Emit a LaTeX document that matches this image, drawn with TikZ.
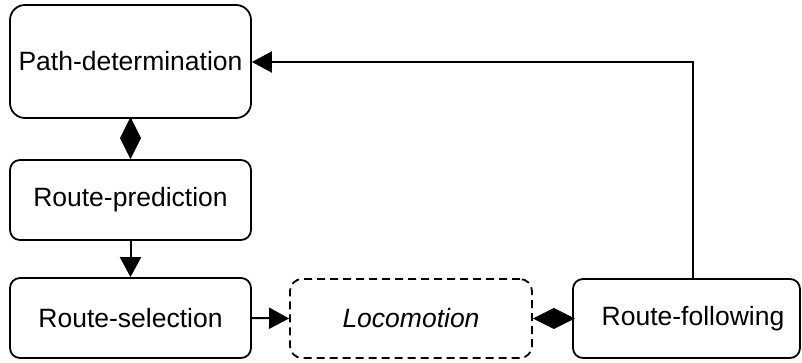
\documentclass[tikz,border=0pt]{standalone}
\usepackage{fontspec}
\setmainfont{Liberation Sans}
\usetikzlibrary{arrows.meta,calc}

\tikzset{
  stage/.style={draw, line width=1.8pt, rounded corners=10pt, inner sep=0pt,
    font=\fontsize{26.5}{30}\selectfont},
  lbl/.style={inner sep=0pt, font=\fontsize{26.5}{30}\selectfont},
  link/.style={line width=2pt},
  flow/.style={link, -{Triangle[length=20pt,width=21pt]}},
  assoc/.style={link, -{Diamond[length=42pt,width=21pt]}},
}

\begin{document}
\begin{tikzpicture}[x=1pt, y=-1pt]
  \useasboundingbox (0,0) rectangle (802,362);

  % stages of the navigation process
  \node[stage, rounded corners=15pt, minimum width=241pt, minimum height=113pt]
    (pd) at (130.5,61.5) {Path-determination};
  \node[stage, minimum width=241pt, minimum height=80pt]
    (rp) at (130.5,200) {Route-prediction};
  \node[stage, minimum width=241pt, minimum height=80pt]
    (rs) at (130.5,318) {Route-selection};
  \node[stage, dashed, dash pattern=on 8pt off 5pt, rounded corners=12pt,
    minimum width=242pt, minimum height=79pt]
    (loco) at (411,318.5) {\itshape Locomotion};
  \node[stage, minimum width=227pt, minimum height=79pt]
    (rf) at (686.5,318.5) {};
  \node[lbl] (rftext) at (693,318.5) {Route-following};

  % connections between the stages
  \draw[assoc] (pd.south) -- (rp.north);
  \draw[flow] (rp.south) -- (rs.north);
  \draw[flow] (rs.east) -- (loco.west);
  \draw[assoc] (rf.west) -- (loco.east);
  \coordinate (turn) at (693,62);
  \draw[flow] (rf.north -| rftext) -- (turn) -- (turn -| pd.east);
\end{tikzpicture}
\end{document}
